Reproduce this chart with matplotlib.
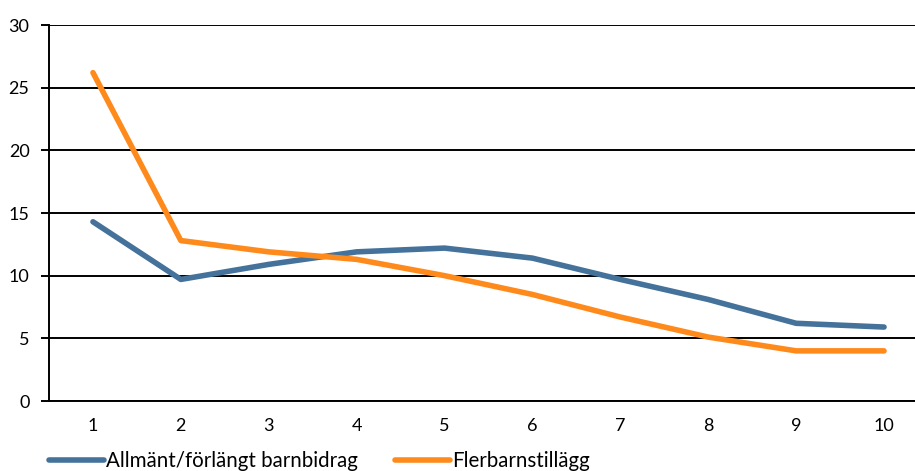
import matplotlib.pyplot as plt

plt.rcParams['font.family'] = ['Lato', 'DejaVu Sans']
plt.rcParams['font.size'] = 13

# Data
deciles = [1, 2, 3, 4, 5, 6, 7, 8, 9, 10]
allmant = [14.3, 9.7, 10.9, 11.9, 12.2, 11.4, 9.7, 8.1, 6.2, 5.9]
flerbarn = [26.2, 12.8, 11.9, 11.3, 10.0, 8.5, 6.7, 5.1, 4.0, 4.0]

fig = plt.figure(figsize=(9.15, 4.71), dpi=100)
W, H = 915, 471
ax = fig.add_axes([49 / W, (H - 401) / H, (928 - 49) / W, (401 - 25) / H])

ax.plot(deciles, allmant, color='#44729A', linewidth=4, solid_capstyle='round',
        label='Allmänt/förlängt barnbidrag', zorder=3)
ax.plot(deciles, flerbarn, color='#FF8A1C', linewidth=4, solid_capstyle='round',
        label='Flerbarnstillägg', zorder=3)

ax.set_xlim(0.5, 10.5)
ax.set_ylim(0, 30)
ax.set_yticks(range(0, 31, 5))
ax.set_xticks(deciles)
ax.yaxis.grid(True, color='black', linewidth=1.4)
ax.set_axisbelow(True)

for s in ['top', 'right']:
    ax.spines[s].set_visible(False)
ax.spines['left'].set_linewidth(1.4)
ax.spines['bottom'].set_linewidth(1.4)
ax.tick_params(axis='y', length=6, width=1.4, pad=8)
ax.tick_params(axis='x', length=0, pad=12)

fig.legend(loc='lower left', bbox_to_anchor=(30 / W, -0.04), ncol=2, frameon=False,
           handlelength=2.7, handletextpad=0.1, columnspacing=1.8, fontsize=14.8)

fig.savefig('out.png', dpi=100, facecolor='white')
